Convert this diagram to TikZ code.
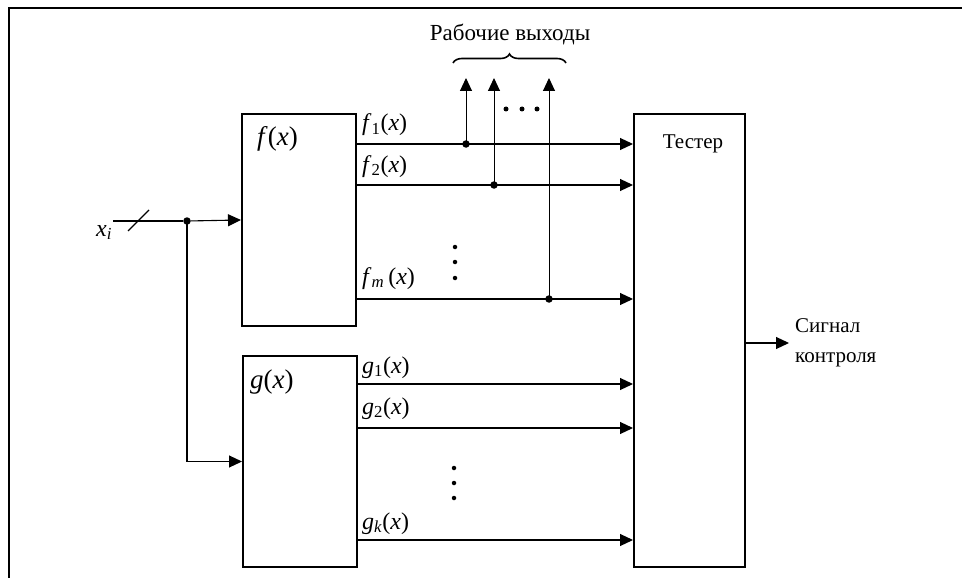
\documentclass[tikz,border=0pt]{standalone}
\usepackage{fontspec}
\setmainfont{Liberation Serif}
\usetikzlibrary{arrows.meta,decorations.pathreplacing}
\newcommand\myit[1]{\textit{#1}}
\begin{document}
\begin{tikzpicture}[x=1pt,y=-1pt,
  box/.style={draw, line width=2pt, inner sep=0pt},
  sig/.style={line width=1.1pt, -{Triangle[length=13pt,width=12pt]}},
  wire/.style={line width=1.1pt},
  lbl/.style={font=\fontsize{24}{26}\selectfont, anchor=base west, inner sep=0pt},
  blbl/.style={font=\fontsize{27}{29}\selectfont, anchor=base west, inner sep=0pt},
  txt/.style={font=\fontsize{21}{30}\selectfont, inner sep=0pt},
  jdot/.style={circle, fill, inner sep=0pt, minimum size=7.5pt},
  vdot/.style={circle, fill, inner sep=0pt, minimum size=4.5pt}]
\useasboundingbox (0,0) rectangle (962,578);
% frame
\draw[line width=2pt] (8.5,578) -- (8.5,8.5) -- (962,8.5);
% blocks
\node[box, minimum width=114pt, minimum height=212pt] (F) at (299,220) {};
\node[box, minimum width=114pt, minimum height=211pt] (G) at (300,461.5) {};
\node[box, minimum width=111pt, minimum height=453pt] (T) at (689.5,340.5) {};
\node[blbl] (Fl) at (257,146) {\myit{f}(\myit{x})};
\node[blbl] (Gl) at (250,388) {\myit{g}(\myit{x})};
\node[txt, anchor=base] (Tl) at (693,148) {Тестер};
% input
\coordinate (xin) at (113,221);
\node[lbl] (xl) at (96,236) {\myit{x}\textsubscript{\myit{i}}};
\node[jdot] (j0) at (187,221) {};
\draw[wire] (xin) -- (j0);
\coordinate (s1) at (128,231);
\coordinate (s2) at (149,210);
\draw[wire] (s1) -- (s2);
\draw[sig] (j0) -- (F.west);
\draw[sig] (j0.center) |- (G.west);
% f outputs
\coordinate (yf1) at (0,144);
\coordinate (yf2) at (0,185);
\coordinate (yfm) at (0,299);
\draw[sig] (F.east |- yf1) -- (T.west |- yf1);
\draw[sig] (F.east |- yf2) -- (T.west |- yf2);
\draw[sig] (F.east |- yfm) -- (T.west |- yfm);
\node[lbl] (lf1) at (362,131) {\myit{f}\textsubscript{1}(\myit{x})};
\node[lbl] (lf2) at (362,172) {\myit{f}\textsubscript{2}(\myit{x})};
\node[lbl] (lfm) at (362,284) {\myit{f}\textsubscript{\myit{m}}\,(\myit{x})};
\node[vdot] (fv1) at (455,247) {};
\node[vdot] (fv2) at (455,262) {};
\node[vdot] (fv3) at (455,278) {};
% g outputs
\coordinate (yg1) at (0,384);
\coordinate (yg2) at (0,428);
\coordinate (ygk) at (0,540);
\draw[sig] (G.east |- yg1) -- (T.west |- yg1);
\draw[sig] (G.east |- yg2) -- (T.west |- yg2);
\draw[sig] (G.east |- ygk) -- (T.west |- ygk);
\node[lbl] (lg1) at (362,373) {\myit{g}\textsubscript{1}(\myit{x})};
\node[lbl] (lg2) at (362,414) {\myit{g}\textsubscript{2}(\myit{x})};
\node[lbl] (lgk) at (362,529) {\myit{g}\textsubscript{\myit{k}}(\myit{x})};
\node[vdot] (gv1) at (454,468) {};
\node[vdot] (gv2) at (454,483) {};
\node[vdot] (gv3) at (454,498) {};
% taps (working outputs)
\node[jdot] (t1) at (466,144) {};
\node[jdot] (t2) at (494,185) {};
\node[jdot] (t3) at (549,299) {};
\coordinate (u1) at (466,78);
\coordinate (u2) at (494,78);
\coordinate (u3) at (549,78);
\draw[sig, line width=1pt] (t1.center) -- (u1);
\draw[sig, line width=1pt] (t2.center) -- (u2);
\draw[sig, line width=1pt] (t3.center) -- (u3);
\node[circle, fill, inner sep=0pt, minimum size=5pt] (h1) at (506,109) {};
\node[circle, fill, inner sep=0pt, minimum size=5pt] (h2) at (522,109) {};
\node[circle, fill, inner sep=0pt, minimum size=5pt] (h3) at (537,109) {};
\coordinate (b1) at (453,63);
\coordinate (b2) at (566,63);
\draw[line width=1.6pt, decorate, decoration={brace, amplitude=9pt}] (b1) -- (b2);
\node[txt, font=\fontsize{23}{26}\selectfont, anchor=base] (wl) at (510,41) {Рабочие выходы};
% output
\coordinate (out) at (789,343);
\draw[sig] (T.east |- out) -- (out);
\node[txt, anchor=west, align=left] (ol) at (795,343) {Сигнал\\контроля};
\end{tikzpicture}
\end{document}
